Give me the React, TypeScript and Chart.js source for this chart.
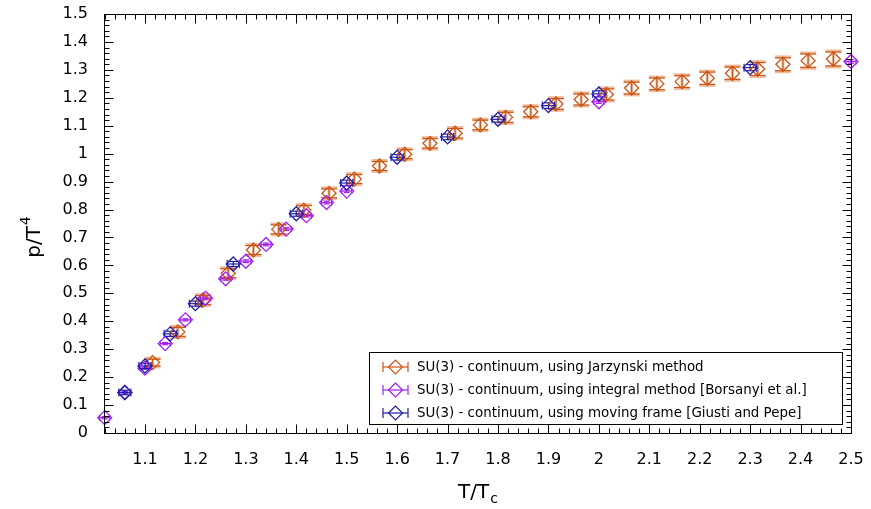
import React, { useEffect, useRef } from "react";
import { Chart, registerables } from "chart.js";

Chart.register(...registerables);

const FONT = "'DejaVu Sans', 'Liberation Sans', sans-serif";

// Axis ticks
const xTickValues = [1.1, 1.2, 1.3, 1.4, 1.5, 1.6, 1.7, 1.8, 1.9, 2.0, 2.1, 2.2, 2.3, 2.4, 2.5];
const yTickValues = [0, 0.1, 0.2, 0.3, 0.4, 0.5, 0.6, 0.7, 0.8, 0.9, 1.0, 1.1, 1.2, 1.3, 1.4, 1.5];
const X_MIN = 1.0187;
const X_MAX = 2.5;
const Y_MIN = 0;
const Y_MAX = 1.5;

// Series 1: Jarzynski method
const jarzT = [1.115, 1.165, 1.215, 1.265, 1.315, 1.365, 1.415, 1.465, 1.515, 1.565, 1.615, 1.665, 1.715, 1.765,
  1.815, 1.865, 1.915, 1.965, 2.015, 2.065, 2.115, 2.165, 2.215, 2.265, 2.315, 2.365, 2.415, 2.465];
const jarzP = [0.252, 0.362, 0.476, 0.572, 0.655, 0.729, 0.798, 0.858, 0.909, 0.956, 0.998, 1.037, 1.073, 1.103,
  1.130, 1.150, 1.178, 1.194, 1.212, 1.235, 1.250, 1.258, 1.270, 1.288, 1.303, 1.320, 1.333, 1.339];
const jarzErr = [0.012, 0.016, 0.016, 0.016, 0.016, 0.016, 0.016, 0.016, 0.016, 0.016, 0.016, 0.017, 0.017, 0.017,
  0.018, 0.018, 0.019, 0.020, 0.020, 0.021, 0.021, 0.021, 0.022, 0.022, 0.023, 0.023, 0.024, 0.025];

// Series 2: integral method [Borsanyi et al.]
const intT = [1.02, 1.06, 1.10, 1.14, 1.18, 1.22, 1.26, 1.30, 1.34, 1.38, 1.42, 1.46, 1.50, 2.0, 2.5];
const intP = [0.055, 0.145, 0.232, 0.320, 0.405, 0.482, 0.552, 0.615, 0.675, 0.730, 0.778, 0.825, 0.866, 1.186, 1.330];
const intErr = [0.004, 0.004, 0.004, 0.004, 0.004, 0.005, 0.005, 0.005, 0.005, 0.005, 0.005, 0.005, 0.005, 0.006, 0.006];
const intXErr = [0.01, 0.01, 0.01, 0.01, 0.01, 0.01, 0.01, 0.01, 0.01, 0.01, 0.01, 0.01, 0.01, 0.01, 0.01];

// Series 3: moving frame [Giusti and Pepe]
const movT = [1.06, 1.10, 1.15, 1.20, 1.275, 1.40, 1.50, 1.60, 1.70, 1.80, 1.90, 2.0, 2.30];
const movP = [0.145, 0.240, 0.355, 0.463, 0.605, 0.785, 0.895, 0.987, 1.060, 1.123, 1.172, 1.214, 1.308];
const movErr = [0.008, 0.009, 0.009, 0.009, 0.009, 0.009, 0.010, 0.010, 0.010, 0.010, 0.010, 0.011, 0.011];
const movXErr = [0.012, 0.012, 0.012, 0.012, 0.012, 0.012, 0.012, 0.012, 0.012, 0.012, 0.012, 0.012, 0.012];

const legendLabels = [
  "SU(3) - continuum, using Jarzynski method",
  "SU(3) - continuum, using integral method [Borsanyi et al.]",
  "SU(3) - continuum, using moving frame [Giusti and Pepe]",
];

const COL_JARZ = "#cc5514";
const COL_JARZ_LIGHT = "rgba(228,150,105,0.65)";
const COL_INT = "#a020f0";
const COL_MOV = "#1f1fa5";

export default function App() {
  const ref = useRef<HTMLCanvasElement>(null);

  useEffect(() => {
    const canvas = ref.current;
    if (!canvas) return;
    const pts = (T: number[], P: number[]) => T.map((t, i) => ({ x: t, y: P[i] }));

    const line = (ctx: CanvasRenderingContext2D, x1: number, y1: number, x2: number, y2: number) => {
      ctx.beginPath();
      ctx.moveTo(x1, y1);
      ctx.lineTo(x2, y2);
      ctx.stroke();
    };

    const diamond = (ctx: CanvasRenderingContext2D, cx: number, cy: number, r: number) => {
      ctx.beginPath();
      ctx.moveTo(cx - r, cy);
      ctx.lineTo(cx, cy - r);
      ctx.lineTo(cx + r, cy);
      ctx.lineTo(cx, cy + r);
      ctx.closePath();
      ctx.stroke();
    };

    const plugin = {
      id: "customDecor",
      beforeDatasetsDraw(chart: any) {
        const { ctx } = chart;
        const xs = chart.scales.x;
        const ys = chart.scales.y;
        ctx.save();
        jarzT.forEach((t, i) => {
          const px = xs.getPixelForValue(t);
          const y1 = ys.getPixelForValue(jarzP[i] - jarzErr[i]);
          const y2 = ys.getPixelForValue(jarzP[i] + jarzErr[i]);
          ctx.strokeStyle = COL_JARZ_LIGHT;
          ctx.lineWidth = 3;
          line(ctx, px, y1 + 1, px, y2 - 1);
          line(ctx, px - 8, y1 + 1, px + 8, y1 + 1);
          line(ctx, px - 8, y2 - 1, px + 8, y2 - 1);
          ctx.strokeStyle = COL_JARZ;
          ctx.lineWidth = 1.2;
          line(ctx, px, y1, px, y2);
          line(ctx, px - 8, y1, px + 8, y1);
          line(ctx, px - 8, y2, px + 8, y2);
        });
        const xyErr = (T: number[], P: number[], E: number[], XE: number[], col: string, cap: number) => {
          ctx.strokeStyle = col;
          ctx.lineWidth = 1.2;
          T.forEach((t, i) => {
            const px = xs.getPixelForValue(t);
            const py = ys.getPixelForValue(P[i]);
            const y1 = ys.getPixelForValue(P[i] - E[i]);
            const y2 = ys.getPixelForValue(P[i] + E[i]);
            const x1 = xs.getPixelForValue(t - XE[i]);
            const x2 = xs.getPixelForValue(t + XE[i]);
            line(ctx, px, y1, px, y2);
            line(ctx, px - cap, y1, px + cap, y1);
            line(ctx, px - cap, y2, px + cap, y2);
            line(ctx, x1, py, x2, py);
            line(ctx, x1, py - cap, x1, py + cap);
            line(ctx, x2, py - cap, x2, py + cap);
          });
        };
        xyErr(intT, intP, intErr, intXErr, COL_INT, 3);
        xyErr(movT, movP, movErr, movXErr, COL_MOV, 4);
        ctx.restore();
      },
      afterDraw(chart: any) {
        const { ctx, chartArea } = chart;
        const xs = chart.scales.x;
        const ys = chart.scales.y;
        const L = Math.round(chartArea.left) + 0.5;
        const R = Math.round(chartArea.right) + 0.5;
        const T = Math.round(chartArea.top) + 0.5;
        const B = Math.round(chartArea.bottom) + 0.5;
        ctx.save();
        ctx.strokeStyle = "#000";
        ctx.lineWidth = 1;
        for (let k = 51; k <= 125; k++) {
          const v = k * 0.02;
          const px = Math.round(xs.getPixelForValue(v)) + 0.5;
          const major = k % 5 === 0;
          const len = major ? 9 : 5;
          line(ctx, px, B, px, B - len);
          line(ctx, px, T, px, T + len);
        }
        for (let k = 0; k <= 75; k++) {
          const v = k * 0.02;
          const py = Math.round(ys.getPixelForValue(v)) + 0.5;
          const major = k % 5 === 0;
          const len = major ? 9 : 5;
          line(ctx, L, py, L + len, py);
          line(ctx, R, py, R - len, py);
        }
        ctx.strokeRect(L, T, R - L, B - T);

        // axis titles
        ctx.fillStyle = "#000";
        ctx.textBaseline = "alphabetic";
        ctx.font = `20px ${FONT}`;
        const main = "T/T";
        const wMain = ctx.measureText(main).width;
        ctx.font = `14px ${FONT}`;
        const wSub = ctx.measureText("c").width;
        const xc = (chartArea.left + chartArea.right) / 2;
        const x0 = xc - (wMain + wSub) / 2;
        ctx.font = `20px ${FONT}`;
        ctx.textAlign = "left";
        ctx.fillText(main, x0, 498);
        ctx.font = `14px ${FONT}`;
        ctx.fillText("c", x0 + wMain + 1, 503);

        ctx.save();
        ctx.translate(40, (chartArea.top + chartArea.bottom) / 2 + 14);
        ctx.rotate(-Math.PI / 2);
        ctx.font = `20px ${FONT}`;
        const ym = "p/T";
        const wy = ctx.measureText(ym).width;
        ctx.font = `14px ${FONT}`;
        const w4 = ctx.measureText("4").width;
        const y0 = -(wy + w4) / 2;
        ctx.font = `20px ${FONT}`;
        ctx.fillText(ym, y0, 0);
        ctx.font = `14px ${FONT}`;
        ctx.fillText("4", y0 + wy + 1, -10);
        ctx.restore();

        // legend
        const bx = 369.5, by = 352.5, bw = 473, bh = 72;
        ctx.fillStyle = "#fff";
        ctx.fillRect(bx, by, bw, bh);
        ctx.strokeStyle = "#000";
        ctx.lineWidth = 1;
        ctx.strokeRect(bx, by, bw, bh);
        const cols = [COL_JARZ, COL_INT, COL_MOV];
        ctx.font = `13.4px ${FONT}`;
        ctx.textBaseline = "middle";
        legendLabels.forEach((lab, i) => {
          const cy = 367 + i * 23;
          ctx.strokeStyle = cols[i];
          ctx.lineWidth = 1.2;
          line(ctx, 383, cy, 408, cy);
          line(ctx, 383, cy - 5, 383, cy + 5);
          line(ctx, 408, cy - 5, 408, cy + 5);
          diamond(ctx, 395.5, cy, 7);
          ctx.fillStyle = "#000";
          ctx.fillText(lab, 417, cy + 1);
        });
        ctx.restore();
      },
    };

    const chart = new Chart(canvas, {
      type: "scatter",
      data: {
        datasets: [
          {
            label: legendLabels[0],
            data: pts(jarzT, jarzP),
            pointStyle: "rectRot",
            pointRadius: 7,
            borderColor: COL_JARZ,
            backgroundColor: "rgba(0,0,0,0)",
            borderWidth: 1.3,
            showLine: false,
            clip: false,
            order: 3,
          },
          {
            label: legendLabels[1],
            data: pts(intT, intP),
            pointStyle: "rectRot",
            pointRadius: 7,
            borderColor: COL_INT,
            backgroundColor: "rgba(0,0,0,0)",
            borderWidth: 1.3,
            showLine: false,
            clip: false,
            order: 2,
          },
          {
            label: legendLabels[2],
            data: pts(movT, movP),
            pointStyle: "rectRot",
            pointRadius: 7,
            borderColor: COL_MOV,
            backgroundColor: "rgba(0,0,0,0)",
            borderWidth: 1.3,
            showLine: false,
            clip: false,
            order: 1,
          },
        ],
      },
      options: {
        responsive: false,
        animation: false,
        events: [],
        layout: { padding: { top: 14, right: 20, left: 0, bottom: 0 } },
        plugins: { legend: { display: false }, tooltip: { enabled: false } },
        scales: {
          x: {
            type: "linear",
            min: X_MIN,
            max: X_MAX,
            grid: { display: false, drawTicks: false },
            border: { display: false },
            ticks: {
              color: "#000",
              font: { family: FONT, size: 16 },
              padding: 17,
              autoSkip: false,
              maxRotation: 0,
              callback: (v: any) => String(Math.round(Number(v) * 10) / 10),
            },
            afterBuildTicks: (s: any) => {
              s.ticks = xTickValues.map((v) => ({ value: v }));
            },
            afterFit: (s: any) => {
              s.height = 76;
              s.paddingLeft = 0;
              s.paddingRight = 0;
            },
          },
          y: {
            type: "linear",
            min: Y_MIN,
            max: Y_MAX,
            grid: { display: false, drawTicks: false },
            border: { display: false },
            ticks: {
              color: "#000",
              font: { family: FONT, size: 16 },
              padding: 16,
              autoSkip: false,
              callback: (v: any) => String(Math.round(Number(v) * 10) / 10),
            },
            afterBuildTicks: (s: any) => {
              s.ticks = yTickValues.map((v) => ({ value: v }));
            },
            afterFit: (s: any) => {
              s.width = 104;
              s.paddingTop = 0;
              s.paddingBottom = 0;
            },
          },
        },
      },
      plugins: [plugin],
    } as any);

    return () => chart.destroy();
  }, []);

  return (
    <div style={{ position: "fixed", left: 0, top: 0, width: 871, height: 509, background: "#fff" }}>
      <canvas ref={ref} width={871} height={509} style={{ display: "block" }} />
    </div>
  );
}
